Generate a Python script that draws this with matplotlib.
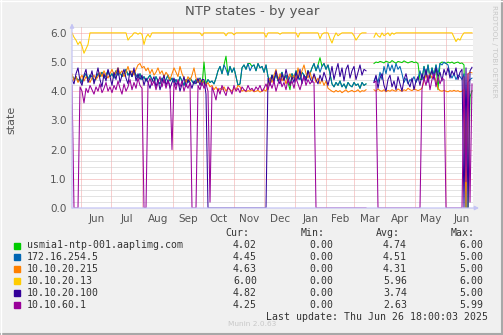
import numpy as np
import pandas as pd
import matplotlib
matplotlib.use('Agg')
import matplotlib.pyplot as plt
import matplotlib.dates as mdates
from matplotlib.ticker import MultipleLocator, FixedLocator, NullFormatter, FormatStrFormatter
from matplotlib.patches import Rectangle
from matplotlib.lines import Line2D

nan = np.nan

# one sample every 2 days, 2024-05-22 18:00 .. 2025-06-26 18:00
times = pd.date_range('2024-05-22 18:00', periods=201, freq='2D')

names = ['usmia1-ntp-001.aaplimg.com', '172.16.254.5', '10.10.20.215',
         '10.10.20.13', '10.10.20.100', '10.10.60.1']
colors = ['#00cc00', '#0066b3', '#ff8000', '#ffcc00', '#330099', '#990099']
cur = ['4.02', '4.45', '4.63', '6.00', '4.82', '4.25']
mins = ['0.00', '0.00', '0.00', '0.00', '0.00', '0.00']
avgs = ['4.74', '4.51', '4.31', '5.96', '3.74', '2.63']
maxs = ['6.00', '5.00', '5.00', '6.00', '5.00', '5.99']

usmia = [
    4.55, 4.40, 4.50, 4.35, 4.45, 4.30, 4.50, 4.60, 4.40, 4.55,
    4.50, 4.35, 4.45, 4.60, 4.50, 4.65, 4.45, 4.55, 4.70, 4.50,
    4.60, 4.45, 4.70, 4.55, 4.65, 4.50, 4.60, 4.75, 4.55, 4.65,
    4.50, 4.70, 4.55, 4.45, 4.60, 4.40, 4.50, 4.35, 4.45, 4.55,
    4.40, 4.30, 4.50, 4.35, 4.25, 4.45, 4.30, 4.40, 4.55, 4.35,
    4.45, 4.30, 4.40, 4.25, 4.50, 4.35, 4.20, 4.40, 4.30, 4.45,
    4.35, 4.25, 4.40, 4.30, 4.45, 4.20, 5.00, 4.25, 4.40, 4.30,
    4.35, 4.25, 4.45, 4.70, 4.85, 4.60, 4.90, 5.20, 4.55, 4.85,
    4.65, 4.80, 4.50, 4.20, 4.25, 4.80, 4.90, 4.75, 4.95, 4.95,
    4.85, 4.90, 4.70, 4.95, 4.80, 4.85, 4.65, 4.90, 4.50, 4.35,
    4.55, 4.40, 4.60, 4.35, 4.50, 4.65, 4.40, 4.55, 4.30, 4.05,
    4.60, 4.45, 4.70, 4.50, 4.40, 4.65, 4.55, 4.45, 4.70, 4.60,
    4.80, 4.95, 4.70, 4.90, 5.15, 4.85, 4.95, 4.75, 4.90, 4.60,
    4.25, 4.15, 4.30, 4.20, 4.35, 4.15, 4.25, 4.10, 4.30, 4.20,
    4.15, 4.30, 4.20, 4.25, 4.10, 4.30, 4.20, 4.25, nan, nan,
    nan, 4.95, 5.00, 4.98, 5.02, 5.00, 4.97, 5.03, 5.00, 4.98,
    5.05, 5.00, 4.96, 5.02, 5.00, 4.98, 5.04, 5.00, 4.97, 5.00,
    5.02, 4.98, 5.00, 4.95, 4.40, 4.40, 4.85, 4.50, 4.90, 4.45,
    4.80, 4.55, 4.90, 4.05, 4.95, 5.00, 4.98, 4.95, 5.00, 4.97,
    5.00, 4.95, 4.98, 5.00, 4.95, 4.97, 4.90, 0.00, 0.00, 3.80,
    4.02]

ip_172 = [
    4.55, 4.40, 4.50, 4.35, 4.45, 4.30, 4.50, 4.60, 4.40, 4.55,
    4.50, 4.35, 4.45, 4.60, 4.50, 4.65, 4.45, 4.55, 4.70, 4.50,
    4.60, 4.45, 4.70, 4.55, 4.65, 4.50, 4.60, 4.75, 4.55, 4.65,
    4.50, 4.70, 4.55, 4.45, 4.60, 4.40, 4.50, 4.35, 4.45, 4.55,
    4.40, 4.30, 4.50, 4.35, 4.25, 4.45, 4.30, 4.40, 4.55, 4.35,
    4.45, 4.30, 4.40, 4.25, 4.50, 4.35, 4.20, 4.40, 4.30, 4.45,
    4.35, 4.25, 4.40, 4.30, 4.45, 4.20, 4.35, 4.25, 4.40, 4.30,
    4.35, 4.25, 4.45, 4.70, 4.85, 4.60, 4.90, 4.75, 4.55, 4.85,
    4.65, 4.80, 4.50, 4.20, 4.25, 4.80, 4.90, 4.75, 4.95, 4.70,
    4.85, 4.90, 4.70, 4.95, 4.80, 4.85, 4.65, 4.90, 4.50, 4.35,
    4.55, 4.40, 4.60, 4.35, 4.50, 4.65, 4.40, 4.55, 4.30, 4.50,
    4.60, 4.45, 4.70, 4.50, 4.40, 4.65, 4.55, 4.45, 4.70, 4.60,
    4.80, 4.95, 4.70, 4.90, 4.65, 4.85, 4.95, 4.75, 4.90, 4.60,
    4.25, 4.15, 4.30, 4.20, 4.35, 4.15, 4.25, 4.10, 4.30, 4.20,
    4.15, 4.30, 4.20, 4.25, 4.10, 4.30, 4.20, 4.25, nan, nan,
    nan, 4.35, 4.50, 4.30, 4.65, 4.40, 4.85, 4.60, 4.95, 4.70,
    4.90, 4.65, 4.95, 4.75, 4.85, 4.60, 4.30, 4.45, 4.25, 4.40,
    4.35, 4.50, 4.30, 4.45, 4.70, 4.40, 4.85, 4.50, 4.90, 4.45,
    4.80, 4.55, 4.90, 4.60, 4.95, 4.90, 5.00, 4.95, 4.90, 4.60,
    4.45, 4.60, 4.40, 4.55, 4.50, 4.40, 4.60, 0.00, 4.30, 4.40,
    4.45]

ip_215 = [
    4.60, 4.35, 4.50, 4.30, 4.45, 4.55, 4.35, 4.50, 4.40, 4.30,
    4.45, 4.55, 4.40, 4.50, 4.65, 4.50, 4.70, 4.55, 4.45, 4.60,
    4.75, 4.55, 4.65, 4.80, 4.60, 4.70, 4.50, 4.65, 4.85, 4.60,
    4.70, 4.55, 4.75, 4.90, 4.95, 4.80, 4.85, 4.70, 4.80, 4.60,
    4.75, 4.55, 4.65, 4.80, 4.60, 4.70, 4.50, 4.65, 4.55, 4.40,
    4.60, 4.80, 4.65, 4.50, 4.85, 4.60, 4.45, 4.30, 4.50, 4.35,
    4.55, 4.80, 4.45, 4.30, 4.40, 4.25, 4.35, 4.20, 4.30, 4.15,
    4.20, 4.05, 4.15, 4.00, 4.10, 4.05, 4.15, 4.00, 4.10, 4.05,
    4.00, 4.10, 4.05, 4.20, 4.15, 4.00, 4.05, 3.98, 4.02, 4.00,
    4.05, 3.98, 4.00, 4.03, 3.97, 4.00, 4.05, 4.00, 4.25, 4.45,
    4.30, 4.55, 4.75, 4.40, 4.60, 4.35, 4.50, 4.25, 4.45, 4.60,
    4.40, 4.55, 4.35, 4.80, 4.50, 4.70, 4.90, 4.60, 4.45, 4.65,
    4.40, 4.55, 4.30, 4.45, 4.25, 4.40, 4.20, 4.35, 4.10, 4.05,
    4.00, 3.97, 4.03, 3.98, 4.02, 3.95, 4.00, 4.05, 3.97, 4.00,
    4.03, 3.98, 4.00, 4.05, 3.97, 4.02, 4.00, 4.05, nan, nan,
    nan, 4.05, 4.00, 4.08, 4.02, 4.00, 4.05, 3.98, 4.03, 4.00,
    4.05, 4.02, 4.00, 4.08, 4.03, 4.00, 4.05, 4.02, 4.10, 4.05,
    4.02, 4.08, 4.05, 4.02, 4.05, 4.10, 4.35, 4.55, 4.40, 4.60,
    4.45, 4.55, 4.35, 4.10, 4.02, 4.00, 4.03, 4.00, 3.98, 4.02,
    4.00, 4.03, 4.00, 4.02, 3.98, 4.00, 4.05, 0.00, 4.60, 4.65,
    4.63]

ip_13 = [
    6.00, 5.85, 5.75, 5.60, 5.70, 5.55, 5.30, 5.45, 5.60, 6.00,
    6.00, 6.00, 6.00, 6.00, 6.00, 6.00, 6.00, 6.00, 6.00, 6.00,
    6.00, 6.00, 6.00, 6.00, 6.00, 6.00, 6.00, 6.00, 5.75, 5.85,
    5.90, 6.00, 6.00, 5.95, 6.00, 5.95, 5.60, 5.85, 5.95, 5.85,
    6.00, 6.00, 6.00, 6.00, 6.00, 6.00, 6.00, 6.00, 6.00, 6.00,
    6.00, 6.00, 6.00, 6.00, 6.00, 6.00, 6.00, 6.00, 6.00, 6.00,
    6.00, 6.00, 6.00, 6.00, 6.00, 5.90, 6.00, 6.00, 6.00, 6.00,
    6.00, 6.00, 6.00, 6.00, 6.00, 6.00, 6.00, 5.90, 6.00, 6.00,
    6.00, 5.93, 6.00, 6.00, 6.00, 6.00, 6.00, 6.00, 6.00, 6.00,
    6.00, 6.00, 6.00, 6.00, 6.00, 6.00, 6.00, 5.85, 6.00, 6.00,
    6.00, 6.00, 6.00, 6.00, 5.95, 6.00, 6.00, 6.00, 6.00, 6.00,
    6.00, 6.00, 6.00, 5.85, 6.00, 6.00, 6.00, 6.00, 6.00, 6.00,
    6.00, 6.00, 6.00, 6.00, 5.80, 5.95, 6.00, 6.00, 6.00, 5.80,
    5.65, 5.85, 6.00, 5.90, 5.95, 6.00, 6.00, 6.00, 6.00, 6.00,
    6.00, 5.90, 5.75, 5.85, 5.95, 6.00, 6.00, 6.00, nan, nan,
    nan, 5.85, 6.00, 5.90, 5.85, 6.00, 5.90, 5.95, 6.00, 5.90,
    6.00, 5.95, 6.00, 6.00, 6.00, 6.00, 6.00, 6.00, 6.00, 6.00,
    6.00, 6.00, 6.00, 6.00, 6.00, 6.00, 6.00, 6.00, 6.00, 6.00,
    6.00, 6.00, 6.00, 6.00, 6.00, 6.00, 6.00, 6.00, 6.00, 6.00,
    6.00, 5.85, 5.70, 5.80, 5.75, 5.90, 6.00, 6.00, 6.00, 6.00,
    6.00]

ip_100 = [
    4.40, 4.25, 4.60, 4.80, 4.35, 4.20, 4.55, 4.75, 4.30, 4.45,
    4.70, 4.25, 4.50, 4.80, 4.40, 4.15, 4.60, 4.35, 4.75, 4.50,
    4.20, 4.65, 4.40, 4.80, 4.30, 4.55, 4.75, 4.45, 4.25, 4.70,
    4.50, 4.80, 4.35, 4.60, 4.40, 4.55, 4.20, 4.45, 4.30, 4.10,
    4.35, 4.50, 4.15, 4.40, 4.05, 4.30, 4.55, 4.20, 4.40, 4.10,
    4.30, 4.45, 4.20, 4.35, 4.00, 4.25, 4.50, 4.15, 4.40, 4.30,
    4.10, 4.35, 4.25, 4.45, 4.20, 4.40, 4.40, 3.90, 0.00, 0.00,
    0.00, 0.00, 0.00, 0.00, 0.00, 0.00, 0.00, 0.00, 0.00, 0.00,
    0.00, 0.00, 0.00, 0.00, 0.00, 0.00, 0.00, 0.00, 0.00, 0.00,
    0.00, 0.00, 0.00, 0.00, 0.00, 0.00, 0.00, 0.00, 4.45, 4.20,
    4.55, 4.30, 4.70, 4.40, 4.25, 4.60, 4.35, 4.75, 4.45, 4.20,
    4.50, 4.30, 4.65, 4.40, 4.75, 4.25, 4.55, 4.35, 4.70, 4.45,
    4.30, 4.60, 4.40, 4.25, 4.55, 4.35, 4.65, 4.45, 4.20, 4.50,
    4.85, 4.40, 4.70, 4.95, 4.50, 4.80, 4.35, 4.75, 4.90, 4.45,
    4.70, 4.85, 4.40, 4.65, 4.90, 4.55, 4.75, 4.70, nan, nan,
    nan, 4.30, 4.55, 4.10, 4.45, 4.60, 4.20, 4.00, 4.40, 4.55,
    4.15, 4.35, 4.05, 4.50, 4.25, 4.00, 4.40, 4.60, 4.30, 4.15,
    4.45, 4.05, 4.35, 4.50, 4.20, 4.60, 4.40, 4.75, 4.30, 4.55,
    4.70, 4.40, 4.80, 4.50, 4.65, 4.35, 4.75, 4.55, 4.80, 4.45,
    4.70, 4.55, 4.80, 4.40, 4.65, 4.75, 0.00, 4.80, 0.00, 4.70,
    4.82]

ip_60 = [
    4.20, 0.00, 0.00, 0.00, 4.15, 4.00, 3.60, 4.10, 3.95, 4.20,
    4.05, 3.90, 4.15, 4.00, 4.25, 3.95, 4.10, 4.30, 4.00, 4.15,
    3.95, 4.20, 4.05, 4.35, 4.10, 3.90, 4.25, 4.00, 4.15, 4.40,
    4.05, 4.30, 4.10, 4.45, 4.20, 4.10, 0.00, 0.00, 4.25, 4.45,
    4.20, 4.35, 4.05, 4.30, 4.50, 4.15, 4.40, 4.10, 4.35, 4.20,
    2.00, 4.30, 4.05, 4.40, 4.15, 4.35, 4.00, 4.25, 4.10, 4.30,
    0.00, 0.00, 0.00, 4.20, 4.05, 4.30, 4.10, 4.25, 4.00, 0.20,
    4.15, 3.95, 3.70, 4.10, 3.90, 4.20, 4.00, 3.85, 4.15, 4.05,
    3.90, 4.20, 4.00, 4.10, 3.95, 4.15, 4.05, 4.00, 4.20, 4.05,
    4.10, 4.00, 4.15, 4.05, 4.20, 4.00, 4.10, 4.25, 4.05, 4.30,
    4.10, 4.35, 4.00, 4.25, 4.45, 4.15, 4.30, 4.05, 4.40, 4.20,
    4.35, 4.10, 4.45, 4.25, 4.05, 4.30, 4.50, 4.20, 4.40, 4.25,
    4.35, 4.30, 0.00, 0.00, 0.00, 0.00, 0.00, 0.00, 0.00, 0.00,
    0.00, 0.00, 0.00, 0.00, 0.00, 0.00, 0.00, 0.00, 0.00, 0.00,
    0.00, 0.00, 0.00, 0.00, 0.00, 0.00, 0.00, 0.00, nan, nan,
    nan, 4.30, 4.35, 0.00, 0.00, 0.00, 0.00, 0.00, 0.00, 0.00,
    0.00, 0.00, 0.00, 0.00, 0.00, 0.00, 0.00, 0.00, 0.00, 0.00,
    0.00, 0.00, 0.00, 0.00, 0.00, 4.10, 4.45, 4.20, 4.55, 4.05,
    4.40, 4.60, 4.15, 4.50, 4.25, 4.45, 4.40, 0.00, 0.00, 0.00,
    0.00, 0.00, 0.00, 0.00, 0.00, 0.00, 4.50, 0.90, 4.60, 0.20,
    4.25]

series = [usmia, ip_172, ip_215, ip_13, ip_100, ip_60]

W, H = 503, 335
fig = plt.figure(figsize=(W / 100, H / 100), dpi=100, facecolor='#f0f0f0')


def fx(px):
    return px / W


def fy(py):
    return 1 - py / H


ax = fig.add_axes([fx(72), fy(208), fx(401), 181 / H])
ax.set_facecolor('white')

for s, c in zip(series, colors):
    ax.plot(times, s, color=c, lw=0.75)

start = times[0]
ax.set_xlim(start, start + pd.Timedelta(days=401))
ax.set_ylim(0, 6.2)

# month gridlines, labels in the middle of each month
months = pd.date_range('2024-05-01', '2025-08-01', freq='MS')
mids = [m + (n - m) / 2 for m, n in zip(months[:-1], months[1:])]
mids = [m for m in mids if start <= m <= times[-1]]
ax.xaxis.set_major_locator(mdates.MonthLocator())
ax.xaxis.set_major_formatter(NullFormatter())
ax.xaxis.set_minor_locator(FixedLocator(mdates.date2num(mids)))
ax.xaxis.set_minor_formatter(mdates.DateFormatter('%b'))

ax.yaxis.set_major_locator(MultipleLocator(1.0))
ax.yaxis.set_minor_locator(MultipleLocator(0.2))
ax.yaxis.set_major_formatter(FormatStrFormatter('%.1f'))

ax.grid(which='minor', axis='y', color='#c8c8c8', linestyle=(0, (1, 1)), lw=0.72)
ax.grid(which='major', axis='both', color='#f2a0a0', linestyle=(0, (1, 1)), lw=0.72)
ax.set_axisbelow(True)

ax.tick_params(which='both', length=0, labelsize=7.5, labelcolor='#555555')
ax.tick_params(axis='x', which='minor', pad=4)
ax.tick_params(axis='y', pad=4)
for sp in ax.spines.values():
    sp.set_visible(False)

# rrdtool style axes with arrows
arrow = dict(arrowstyle='-|>', color='#c4c4f4', lw=0.9, mutation_scale=6, shrinkA=0, shrinkB=0)
ax.annotate('', xy=(0, 1.02), xytext=(0, 0), xycoords='axes fraction',
            arrowprops=arrow, annotation_clip=False)
ax.annotate('', xy=(1.015, 0), xytext=(0, 0), xycoords='axes fraction',
            arrowprops=arrow, annotation_clip=False)

fig.text(fx(252), fy(12), 'NTP states - by year', ha='center', va='center',
         fontsize=9.5, color='#555555')
fig.text(fx(11), fy(120), 'state', ha='center', va='center', rotation=90,
         fontsize=8, color='#555555')
fig.text(fx(494), fy(5), 'RRDTOOL / TOBI OETIKER', ha='center', va='top',
         rotation=270, fontsize=5.2, color='#c8c8c8')

# legend block
mono = dict(family='DejaVu Sans Mono', fontsize=7.1, color='#333333', va='center')
fig.text(fx(249), fy(233), 'Cur:', ha='right', **mono)
fig.text(fx(325), fy(233), 'Min:', ha='right', **mono)
fig.text(fx(400), fy(233), 'Avg:', ha='right', **mono)
fig.text(fx(475), fy(233), 'Max:', ha='right', **mono)

for i, name in enumerate(names):
    y = 245.5 + i * 11.9
    fig.patches.append(Rectangle((fx(14), fy(y + 3)), fx(6), 6 / H,
                                 transform=fig.transFigure, color=colors[i]))
    fig.text(fx(27), fy(y), name, ha='left', **mono)
    fig.text(fx(257), fy(y), cur[i], ha='right', **mono)
    fig.text(fx(333), fy(y), mins[i], ha='right', **mono)
    fig.text(fx(407), fy(y), avgs[i], ha='right', **mono)
    fig.text(fx(483), fy(y), maxs[i], ha='right', **mono)

fig.text(fx(488), fy(317), 'Last update: Thu Jun 26 18:00:03 2025', ha='right', **mono)
fig.text(fx(252), fy(324.5), 'Munin 2.0.63', ha='center', va='center',
         fontsize=5.3, color='#c8c8c8')

# frame
fig.add_artist(Line2D([0, 1], [fy(334), fy(334)], transform=fig.transFigure, color='#a8a8a8', lw=1.5))
fig.add_artist(Line2D([fx(502), fx(502)], [0, 1], transform=fig.transFigure, color='#a8a8a8', lw=1.5))
fig.add_artist(Line2D([0, 1], [fy(0.5), fy(0.5)], transform=fig.transFigure, color='#ffffff', lw=1))
fig.add_artist(Line2D([fx(0.5), fx(0.5)], [0, 1], transform=fig.transFigure, color='#ffffff', lw=1))

fig.savefig('out.png', dpi=100, facecolor=fig.get_facecolor())
